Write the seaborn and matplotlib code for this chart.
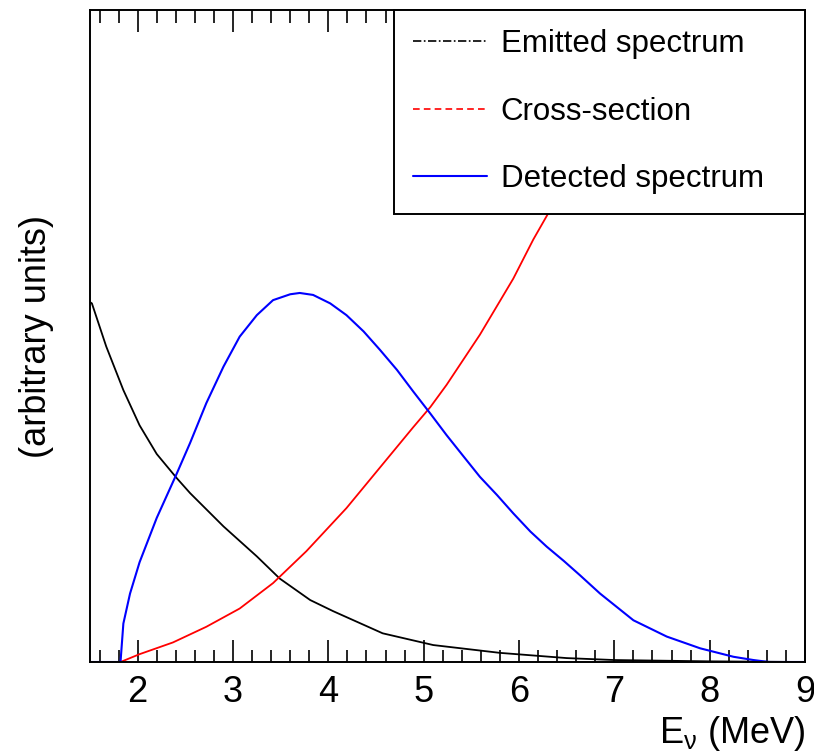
import matplotlib
matplotlib.use("Agg")
import matplotlib.pyplot as plt
from matplotlib.lines import Line2D
from matplotlib.ticker import MultipleLocator, NullLocator
import seaborn as sns

## ---- datos (unidades arbitrarias, tope del eje = 1) ----
E_emit = [1.50, 1.52, 1.67, 1.85, 2.02, 2.20, 2.41, 2.55, 2.90, 3.25, 3.49, 3.81, 4.05, 4.57, 5.10,
          5.80, 6.50, 7.00, 8.00, 9.00]
emitted = [0.552, 0.550, 0.484, 0.417, 0.363, 0.319, 0.282, 0.259, 0.208, 0.162, 0.128, 0.095, 0.078, 0.044, 0.026,
           0.014, 0.006, 0.003, 0.001, 0.000]

E_xs = [1.82, 2.02, 2.37, 2.72, 3.07, 3.42, 3.77, 4.19, 4.54, 4.89, 5.07, 5.24, 5.59, 5.94, 6.15, 6.31,
        6.60, 7.00, 7.30, 7.50]
xsec = [0.000, 0.012, 0.030, 0.054, 0.082, 0.121, 0.170, 0.236, 0.298, 0.360, 0.391, 0.425, 0.502, 0.588, 0.648, 0.689,
        0.77, 0.89, 0.99, 1.06]

E_det = [1.50, 1.82, 1.85, 1.92, 2.02, 2.20, 2.41, 2.55, 2.72, 2.90, 3.07, 3.25, 3.42, 3.60, 3.70, 3.84,
         4.02, 4.19, 4.37, 4.54, 4.72, 4.89, 5.07, 5.24, 5.42, 5.59, 5.77, 5.94, 6.12, 6.29, 6.47, 6.64,
         6.85, 7.20, 7.55, 7.90, 8.25, 8.46, 8.62, 9.00]
detected = [0.000, 0.000, 0.059, 0.105, 0.153, 0.221, 0.289, 0.336, 0.397, 0.453, 0.499, 0.532, 0.555, 0.564, 0.566, 0.563,
            0.550, 0.532, 0.507, 0.479, 0.448, 0.415, 0.381, 0.348, 0.315, 0.284, 0.256, 0.228, 0.200, 0.177, 0.155, 0.133,
            0.105, 0.064, 0.039, 0.021, 0.008, 0.003, 0.000, 0.000]

labels = ['Emitted spectrum', 'Cross-section', 'Detected spectrum']

## ---- estilo ----
sns.set_theme(style="ticks")
plt.rcParams['font.family'] = ['Liberation Sans', 'DejaVu Sans']
plt.rcParams['mathtext.fontset'] = 'custom'
plt.rcParams['mathtext.rm'] = 'Liberation Sans'
plt.rcParams['mathtext.it'] = 'Liberation Sans'
plt.rcParams['text.color'] = 'black'
plt.rcParams['axes.labelcolor'] = 'black'
plt.rcParams['xtick.color'] = 'black'
plt.rcParams['xtick.labelcolor'] = 'black'

fig = plt.figure(figsize=(8.14, 7.56), dpi=100)
ax = fig.add_axes([90/814, 94/756, 715/814, 652/756])

sns.lineplot(x=E_emit, y=emitted, color='black', lw=1.3, ax=ax)
sns.lineplot(x=E_xs, y=xsec, color='red', lw=1.3, ax=ax)
sns.lineplot(x=E_det, y=detected, color='blue', lw=1.5, ax=ax)

ax.set_xlim(1.5, 9)
ax.set_ylim(0, 1)

for s in ax.spines.values():
    s.set_linewidth(1.4)
    s.set_color('black')

ax.xaxis.set_major_locator(MultipleLocator(1))
ax.xaxis.set_minor_locator(MultipleLocator(0.2))
ax.yaxis.set_major_locator(NullLocator())
ax.tick_params(axis='x', which='both', direction='in', top=True, bottom=True, width=1.2, color='black')
ax.tick_params(axis='x', which='major', length=16, labelsize=26, pad=9)
ax.tick_params(axis='x', which='minor', length=9)

ax.set_xlabel(r'E$_{\nu}$ (MeV)', fontsize=26, loc='right', labelpad=3)
ax.set_ylabel('(arbitrary units)', fontsize=26, labelpad=26)

## leyenda con lineas propias (las curvas del panel se ven continuas)
handles = [Line2D([], [], color='black', lw=1.2, ls=(0, (5, 1.5, 1, 1.5))),
           Line2D([], [], color='red', lw=1.2, ls=(0, (4, 2.5))),
           Line2D([], [], color='blue', lw=1.5)]
x0 = (394 - 90) / 715
leg = ax.legend(handles, labels, loc='upper right', bbox_to_anchor=(x0, 0, 1 - x0, 1), mode='expand',
                borderaxespad=0, fontsize=22.5, frameon=True, fancybox=False, framealpha=1,
                edgecolor='black', handlelength=2.35, handletextpad=0.45, labelspacing=1.2, borderpad=0.62)
leg.get_frame().set_linewidth(1.4)

plt.savefig('out.png', dpi=100)
